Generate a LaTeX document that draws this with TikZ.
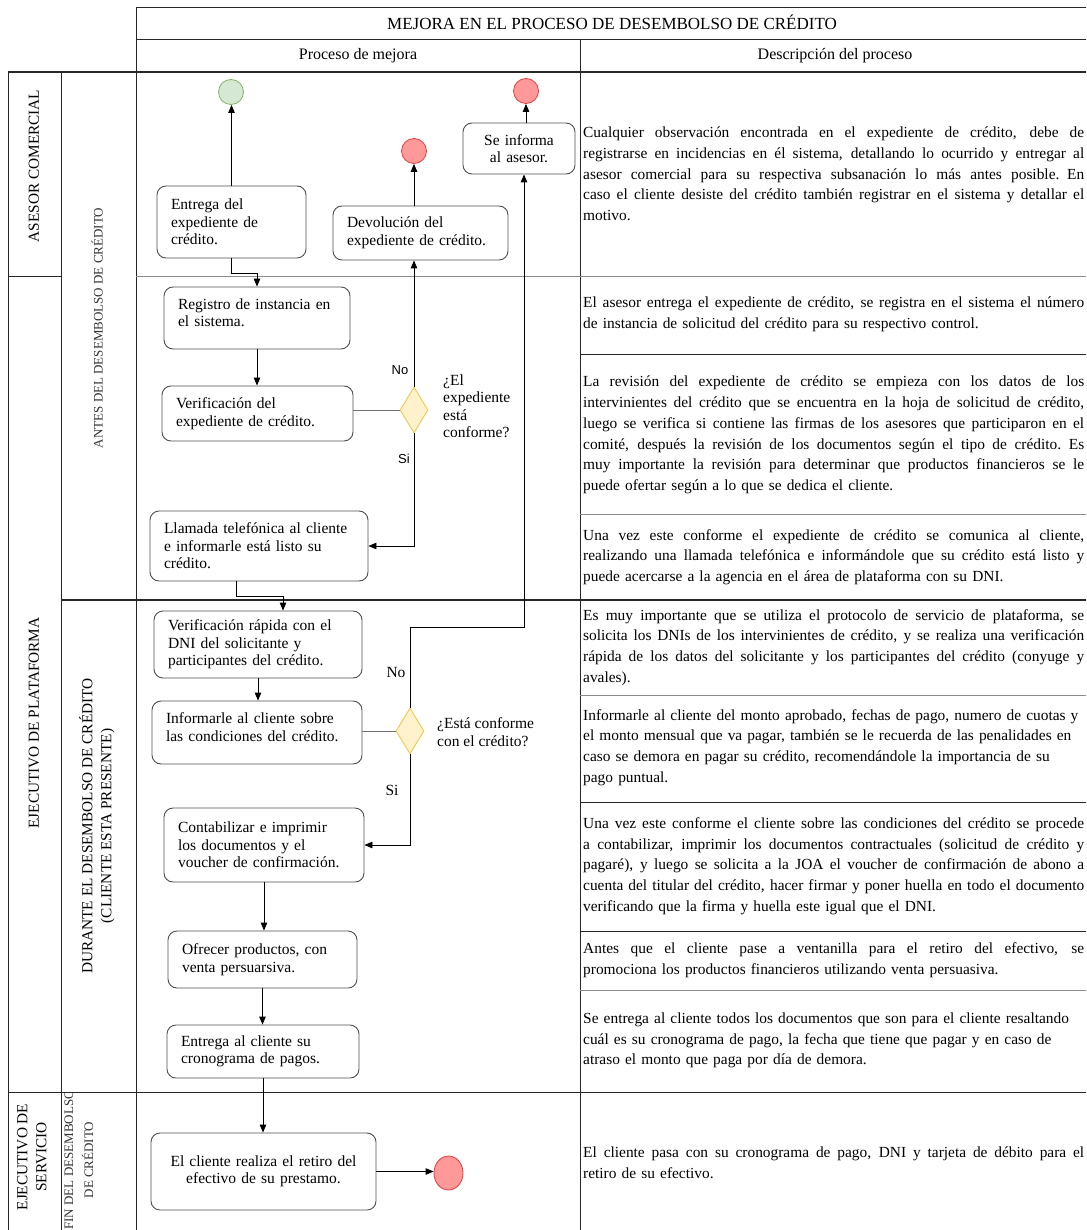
\documentclass[tikz,border=0pt]{standalone}
\usepackage{fontspec}
\setmainfont{Liberation Serif}
\newfontfamily\labelsans{Liberation Sans}
\usetikzlibrary{arrows.meta,shapes.geometric}

\definecolor{boxline}{HTML}{505050}
\definecolor{startfill}{HTML}{D5E8D4}
\definecolor{startline}{HTML}{82B366}
\definecolor{endfill}{HTML}{FF9999}
\definecolor{endline}{HTML}{E83B3B}
\definecolor{decfill}{HTML}{FFF2CC}
\definecolor{decline}{HTML}{F2C94C}

% one printed line of a description: justified or ragged
\newcommand{\jline}[1]{\noindent\hbox to\hsize{\spaceskip=0.25em plus 1em minus 0.08em #1}\par}
\newcommand{\rline}[1]{\noindent\hbox to\hsize{#1\hss}\par}
% extra depth below the last line, so the text sits higher in its box
\newcommand{\lowpad}{\rule[-11pt]{0pt}{11pt}}

\tikzset{
  tablerule/.style={line width=0.9pt, draw=black!85},
  softrule/.style={line width=0.9pt, draw=black!45},
  heavyrule/.style={line width=1.6pt, draw=black!85},
  stepbox/.style={draw=boxline, line width=0.9pt, rounded corners=9pt, fill=white,
    font=\fontsize{15.5}{17.5}\selectfont, align=left, inner xsep=14pt, inner ysep=2pt},
  startev/.style={circle, draw=startline, fill=startfill, line width=0.8pt,
    minimum size=25pt, inner sep=0pt},
  endev/.style={ellipse, draw=endline, fill=endfill, line width=0.8pt,
    minimum width=25pt, minimum height=25pt, inner sep=0pt},
  decision/.style={diamond, draw=decline, fill=decfill, line width=0.9pt,
    minimum width=28pt, minimum height=46pt, inner sep=0pt},
  arr/.style={draw=black, line width=0.9pt, -{Triangle[length=8pt,width=6.5pt]}},
  plainlink/.style={draw=black!55, line width=0.9pt},
  qtext/.style={anchor=west, align=left, inner sep=0pt, font=\fontsize{15.5}{17.5}\selectfont},
  sanslbl/.style={inner sep=0pt, font=\labelsans\fontsize{13}{15}\selectfont},
  seriflbl/.style={inner sep=0pt, font=\fontsize{15.5}{17}\selectfont},
  desc/.style={anchor=west, inner sep=0pt, text width=501pt,
    font=\fontsize{15.4}{20.7}\selectfont},
  header/.style={inner sep=0pt, font=\fontsize{16}{18}\selectfont},
  role/.style={rotate=90, align=center, inner sep=0pt, font=\fontsize{15.3}{19}\selectfont},
  phase/.style={rotate=90, align=center, inner sep=0pt, text=black!80,
    font=\fontsize{13}{20}\selectfont},
}

\begin{document}
\begin{tikzpicture}[x=1pt,y=-1pt]
\useasboundingbox (0,0) rectangle (1086,1230);
\fill[white] (0,0) rectangle (1086,1230);

% ---------- table frame ----------
\draw[tablerule] (136,7) -- (1086,7);
\draw[tablerule] (136,39) -- (1086,39);
\draw[heavyrule] (8,72) -- (1086,72);
\draw[tablerule] (136,7) -- (136,1230);
\draw[tablerule] (580,39) -- (580,1230);
\draw[tablerule] (8,72) -- (8,1230);
\draw[tablerule] (61,72) -- (61,1230);
\draw[tablerule] (8,276) -- (61,276);
\draw[softrule] (136,276) -- (1086,276);
\draw[heavyrule] (61,600) -- (1086,600);
\draw[tablerule] (8,1092) -- (1086,1092);
% rows of the description column
\draw[tablerule] (580,354) -- (1086,354);
\draw[softrule] (580,514) -- (1086,514);
\draw[softrule] (580,695) -- (1086,695);
\draw[tablerule] (580,802) -- (1086,802);
\draw[tablerule] (580,931) -- (1086,931);
\draw[softrule] (580,990) -- (1086,990);

% ---------- headings ----------
\node[header, font=\fontsize{17}{19}\selectfont] (title) at (612,22) {MEJORA EN EL PROCESO DE DESEMBOLSO DE CRÉDITO};
\node[header] (hproc) at (358,56) {Proceso de mejora};
\node[header] (hdesc) at (835,56) {Descripción del proceso};

% ---------- lanes ----------
\node[role] (asesor) at (34,166) {ASESOR COMERCIAL};
\node[role] (plataforma) at (34,723) {EJECUTIVO DE PLATAFORMA};
\node[role] (servicio) at (32,1157) {EJECUTIVO DE\\SERVICIO};
\node[phase] (antes) at (97,328) {ANTES DEL DESEMBOLSO DE CRÉDITO};
\node[role] (durante) at (97,826) {DURANTE EL DESEMBOLSO DE CRÉDITO\\(CLIENTE ESTA PRESENTE)};
\begin{scope}
  \clip (61,1092) rectangle (136,1230);
  \node[phase] (fin) at (79,1160) {FIN DEL DESEMBOLSO\\DE CRÉDITO};
\end{scope}

% ---------- process nodes ----------
\node[startev] (start) at (231,92) {};
\node[endev] (endA) at (526,91) {};
\node[endev] (endB) at (414,151) {};
\node[stepbox, align=center, minimum width=112pt, minimum height=51pt, text width=84pt] (informa) at (519,148.5) {Se informa\\al asesor.};
\node[stepbox, minimum width=149pt, minimum height=72pt, text width=121pt] (entrega) at (231.5,222) {Entrega del\\expediente de\\crédito.};
\node[stepbox, minimum width=175pt, minimum height=54pt, text width=147pt] (devol) at (420.5,233) {Devolución del\\expediente de crédito.};
\node[stepbox, minimum width=186pt, minimum height=62pt, text width=158pt] (registro) at (257,318) {Registro de instancia en\\el sistema.\lowpad};
\node[stepbox, minimum width=191pt, minimum height=55pt, text width=163pt] (verif) at (257.5,413.5) {Verificación del\\expediente de crédito.};
\node[decision] (dec1) at (414,410) {};
\node[qtext] (q1) at (443,406) {¿El\\expediente\\está\\conforme?};
\node[stepbox, minimum width=218pt, minimum height=70pt, text width=190pt] (llamada) at (259,546) {Llamada telefónica al cliente\\e informarle está listo su\\crédito.};
\node[stepbox, minimum width=208pt, minimum height=67pt, text width=180pt] (rapida) at (258,644.5) {Verificación rápida con el\\DNI del solicitante y\\participantes del crédito.};
\node[stepbox, minimum width=210pt, minimum height=63pt, text width=182pt] (informar) at (257,732.5) {Informarle al cliente sobre\\las condiciones del crédito.\lowpad};
\node[decision] (dec2) at (410,731) {};
\node[qtext] (q2) at (437,732) {¿Está conforme\\con el crédito?};
\node[stepbox, minimum width=200pt, minimum height=74pt, text width=172pt] (contab) at (264,845) {Contabilizar e imprimir\\los documentos y el\\voucher de confirmación.};
\node[stepbox, minimum width=189pt, minimum height=57pt, text width=161pt] (ofrecer) at (262.5,959.5) {Ofrecer productos, con\\venta persuarsiva.};
\node[stepbox, minimum width=192pt, minimum height=53pt, text width=164pt] (entcli) at (263,1051.5) {Entrega al cliente su\\cronograma de pagos.};
\node[stepbox, align=center, minimum width=225pt, minimum height=77pt, text width=197pt] (retiro) at (263.5,1171.5) {El cliente realiza el retiro del\\efectivo de su prestamo.};
\node[endev, minimum width=29pt, minimum height=34pt] (endC) at (448.5,1173) {};

\coordinate (noturn) at (524,627);

% ---------- connectors ----------
\draw[arr] (entrega.north) -- (entrega.north |- start.south);
\draw[arr] (endB.south |- devol.north) -- (endB.south);
\draw[arr] (endA.south |- informa.north) -- (endA.south);
\draw[arr] (entrega.south) -- ++(0,15) -| (registro.north);
\draw[arr] (registro.south) -- (registro.south |- verif.north);
\draw[plainlink] (dec1.west -| verif.east) -- (dec1.west);
\draw[arr] (dec1.north) -- (dec1.north |- devol.south);
\draw[arr] (dec1.south) |- (llamada.east);
\draw[arr] ([xshift=-23pt]llamada.south) -- ++(0,15) -| ([xshift=25pt]rapida.north);
\draw[arr] (rapida.south) -- (rapida.south |- informar.north);
\draw[plainlink] (dec2.west -| informar.east) -- (dec2.west);
\draw[arr] (dec2.north) |- (noturn) -- (noturn |- informa.south);
\draw[arr] (dec2.south) |- (contab.east);
\draw[arr] (contab.south) -- (contab.south |- ofrecer.north);
\draw[arr] (ofrecer.south) -- (ofrecer.south |- entcli.north);
\draw[arr] (entcli.south) -- (entcli.south |- retiro.north);
\draw[arr] (retiro.east) -- (retiro.east -| endC.west);

% branch labels
\node[sanslbl] (no1) at (400,370) {No};
\node[sanslbl] (si1) at (404,459) {Si};
\node[seriflbl] (no2) at (396,672) {No};
\node[seriflbl] (si2) at (392,790) {Si};

% ---------- descriptions ----------
\node[desc] (d1) at (583,174) {%
\jline{Cualquier observación encontrada en el expediente de crédito, debe de}
\jline{registrarse en incidencias en él sistema, detallando lo ocurrido y entregar al}
\jline{asesor comercial para su respectiva subsanación lo más antes posible. En}
\jline{caso el cliente desiste del crédito también registrar en el sistema y detallar el}
\rline{motivo.}};
\node[desc] (d2) at (583,314.5) {%
\jline{El asesor entrega el expediente de crédito, se registra en el sistema el número}
\rline{de instancia de solicitud del crédito para su respectivo control.}};
\node[desc] (d3) at (583,435) {%
\jline{La revisión del expediente de crédito se empieza con los datos de los}
\jline{intervinientes del crédito que se encuentra en la hoja de solicitud de crédito,}
\jline{luego se verifica si contiene las firmas de los asesores que participaron en el}
\jline{comité, después la revisión de los documentos según el tipo de crédito. Es}
\jline{muy importante la revisión para determinar que productos financieros se le}
\rline{puede ofertar según a lo que se dedica el cliente.}};
\node[desc] (d4) at (583,557) {%
\jline{Una vez este conforme el expediente de crédito se comunica al cliente,}
\jline{realizando una llamada telefónica e informándole que su crédito está listo y}
\rline{puede acercarse a la agencia en el área de plataforma con su DNI.}};
\node[desc] (d5) at (583,647.5) {%
\jline{Es muy importante que se utiliza el protocolo de servicio de plataforma, se}
\jline{solicita los DNIs de los intervinientes de crédito, y se realiza una verificación}
\jline{rápida de los datos del solicitante y los participantes del crédito (conyuge y}
\rline{avales).}};
\node[desc] (d6) at (583,747.5) {%
\rline{Informarle al cliente del monto aprobado, fechas de pago, numero de cuotas y}
\rline{el monto mensual que va pagar, también se le recuerda de las penalidades en}
\rline{caso se demora en pagar su crédito, recomendándole la importancia de su}
\rline{pago puntual.}};
\node[desc] (d7) at (583,866) {%
\jline{Una vez este conforme el cliente sobre las condiciones del crédito se procede}
\jline{a contabilizar, imprimir los documentos contractuales (solicitud de crédito y}
\jline{pagaré), y luego se solicita a la JOA el voucher de confirmación de abono a}
\jline{cuenta del titular del crédito, hacer firmar y poner huella en todo el documento}
\rline{verificando que la firma y huella este igual que el DNI.}};
\node[desc] (d8) at (583,960) {%
\jline{Antes que el cliente pase a ventanilla para el retiro del efectivo, se}
\rline{promociona los productos financieros utilizando venta persuasiva.}};
\node[desc] (d9) at (583,1040.5) {%
\rline{Se entrega al cliente todos los documentos que son para el cliente resaltando}
\rline{cuál es su cronograma de pago, la fecha que tiene que pagar y en caso de}
\rline{atraso el monto que paga por día de demora.}};
\node[desc] (d10) at (583,1163) {%
\jline{El cliente pasa con su cronograma de pago, DNI y tarjeta de débito para el}
\rline{retiro de su efectivo.}};
\end{tikzpicture}
\end{document}
